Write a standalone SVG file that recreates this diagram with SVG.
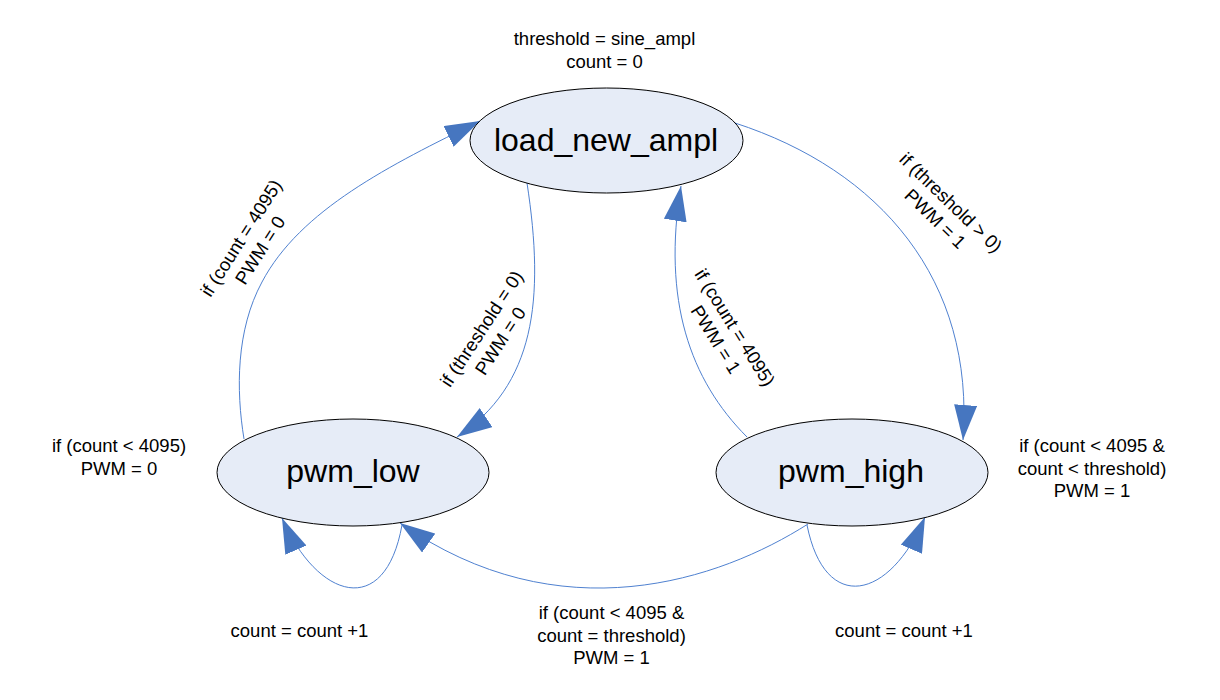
<svg xmlns="http://www.w3.org/2000/svg" width="1220" height="700" viewBox="0 0 1220 700">
<style>
.node{fill:#e6ecf7;stroke:#000;stroke-width:1}
.nl{font-family:"Liberation Sans",Arial,sans-serif;font-size:32px;fill:#000;text-anchor:middle}
.lb{font-family:"Liberation Sans",Arial,sans-serif;font-size:18.5px;fill:#000;text-anchor:middle}
.edge{fill:none;stroke:#4f81d0;stroke-width:1;marker-end:url(#ah)}
</style>
<defs>
<marker id="ah" markerUnits="userSpaceOnUse" viewBox="0 0 35 23" refX="35" refY="11.5" markerWidth="35" markerHeight="23" orient="auto">
<path d="M0,0 L35,11.5 L0,23 Z" fill="#4676c0"/>
</marker>
</defs>
<rect width="1220" height="700" fill="#fff"/>
<g id="connectors">
<path class="edge" d="M244,439 C236,390 236,330 262,282 C300,210 390,165 480,121"/>
<path class="edge" d="M527,183 C545,300 535,385 457,437"/>
<path class="edge" d="M735,123 C880,170 975,280 963,440"/>
<path class="edge" d="M747,437 C690,380 662,300 681,186"/>
<path class="edge" d="M808,524 C720,580 560,635 400,523"/>
<path class="edge" d="M402,525 C385,620 317,599 282,518"/>
<path class="edge" d="M807,525 C825,615 890,600 925,517"/>
</g>
<g id="load_new_ampl">
<ellipse class="node" cx="606.5" cy="140.5" rx="136.5" ry="52.5"/>
<text class="nl" x="606" y="151">load_new_ampl</text>
</g>
<g id="pwm_low">
<ellipse class="node" cx="353" cy="472.5" rx="136" ry="53.5"/>
<text class="nl" x="353" y="482">pwm_low</text>
</g>
<g id="pwm_high">
<ellipse class="node" cx="852" cy="472.5" rx="136" ry="53.5"/>
<text class="nl" x="851" y="482">pwm_high</text>
</g>
<g id="labels">
<text class="lb" x="604.5" y="45">threshold = sine_ampl</text>
<text class="lb" x="604.5" y="67.5">count = 0</text>
<text class="lb" x="119" y="452">if (count &lt; 4095)</text>
<text class="lb" x="119" y="474.5">PWM = 0</text>
<text class="lb" x="1092" y="452">if (count &lt; 4095 &amp;</text>
<text class="lb" x="1092" y="474.5">count &lt; threshold)</text>
<text class="lb" x="1092" y="497">PWM = 1</text>
<text class="lb" x="299.5" y="637">count = count +1</text>
<text class="lb" x="904" y="637">count = count +1</text>
<text class="lb" x="611.5" y="619">if (count &lt; 4095 &amp;</text>
<text class="lb" x="611.5" y="641.5">count = threshold)</text>
<text class="lb" x="611.5" y="664">PWM = 1</text>
<g transform="translate(241,238) rotate(-57.5)">
<text class="lb" x="0" y="6.5">if (count = 4095)</text>
<text class="lb" x="0" y="29">PWM = 0</text>
</g>
<g transform="translate(481.5,328.5) rotate(-56.7)">
<text class="lb" x="0" y="6.5">if (threshold = 0)</text>
<text class="lb" x="0" y="29">PWM = 0</text>
</g>
<g transform="translate(951,202.5) rotate(44)">
<text class="lb" x="0" y="6.5">if (threshold &gt; 0)</text>
<text class="lb" x="0" y="29">PWM = 1</text>
</g>
<g transform="translate(735,327.5) rotate(58)">
<text class="lb" x="0" y="6.5">if (count = 4095)</text>
<text class="lb" x="0" y="29">PWM = 1</text>
</g>
</g>
</svg>
